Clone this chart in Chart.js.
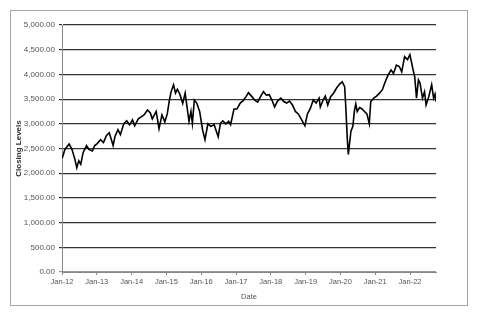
<!DOCTYPE html>
<html>
<head>
<meta charset="utf-8">
<script src="https://cdn.jsdelivr.net/npm/chart.js@4"></script>
<style>
  html, body { margin: 0; padding: 0; background: #fff; }
  #wrap { width: 482px; height: 318px; }
</style>
</head>
<body>
<div id="wrap"><canvas id="closingChart" width="482" height="318"></canvas></div>
<script>
// Closing levels
const dates = [
  "2012-01-03", "2012-02-01", "2012-03-15", "2012-04-15", "2012-05-15", "2012-06-04", "2012-06-25",
  "2012-07-15", "2012-08-10", "2012-09-15", "2012-10-10", "2012-11-15", "2012-12-10",
  "2013-01-05", "2013-02-10", "2013-03-10", "2013-04-10", "2013-05-10", "2013-06-20", "2013-07-10",
  "2013-08-10", "2013-09-05", "2013-10-10", "2013-11-10", "2013-12-10",
  "2014-01-10", "2014-02-03", "2014-03-10", "2014-04-10", "2014-05-10", "2014-06-15", "2014-07-15",
  "2014-08-05", "2014-09-15", "2014-10-15", "2014-11-15", "2014-12-15",
  "2015-01-10", "2015-01-30", "2015-02-20", "2015-03-15", "2015-04-05", "2015-04-25", "2015-05-20",
  "2015-06-20", "2015-07-15", "2015-08-25", "2015-09-15", "2015-09-30", "2015-10-20", "2015-11-15", "2015-12-15",
  "2016-01-15", "2016-02-10", "2016-03-10", "2016-04-10", "2016-05-15", "2016-06-27", "2016-07-20",
  "2016-08-15", "2016-09-15", "2016-10-15", "2016-11-05", "2016-12-10",
  "2017-01-10", "2017-02-15", "2017-03-15", "2017-04-15", "2017-05-10", "2017-06-15", "2017-07-15",
  "2017-08-15", "2017-09-15", "2017-10-15", "2017-11-15", "2017-12-15",
  "2018-01-15", "2018-02-10", "2018-03-10", "2018-04-15", "2018-05-15", "2018-06-15", "2018-07-15",
  "2018-08-15", "2018-09-15", "2018-10-15", "2018-11-15", "2018-12-24",
  "2019-01-20", "2019-02-20", "2019-03-20", "2019-04-20", "2019-05-20", "2019-06-03", "2019-07-01",
  "2019-07-25", "2019-08-20", "2019-09-20", "2019-10-20", "2019-11-20", "2019-12-20",
  "2020-01-20", "2020-02-15", "2020-02-28", "2020-03-12", "2020-03-23", "2020-04-05", "2020-04-20",
  "2020-05-10", "2020-05-25", "2020-06-10", "2020-06-25", "2020-07-20", "2020-08-15", "2020-09-10",
  "2020-10-05", "2020-10-30", "2020-11-15", "2020-12-15",
  "2021-01-15", "2021-02-15", "2021-03-15", "2021-04-15", "2021-05-15", "2021-06-15", "2021-07-10",
  "2021-08-10", "2021-09-10", "2021-10-05", "2021-11-05", "2021-12-05", "2021-12-30",
  "2022-01-15", "2022-01-30", "2022-02-20", "2022-03-08", "2022-03-28", "2022-04-15", "2022-05-10",
  "2022-06-01", "2022-06-17", "2022-07-15", "2022-08-15", "2022-09-05", "2022-09-20", "2022-09-30"
];

const closingLevels = [
  2300, 2480, 2590, 2480, 2280, 2110, 2250,
  2180, 2420, 2560, 2480, 2450, 2560,
  2600, 2680, 2620, 2760, 2820, 2560, 2750,
  2880, 2780, 3000, 3060, 2980,
  3080, 2960, 3100, 3140, 3180, 3280, 3220,
  3100, 3250, 2900, 3180, 3040,
  3200, 3450, 3650, 3790, 3620, 3700, 3600,
  3410, 3620, 3050, 3250, 3010, 3480, 3420, 3250,
  2880, 2680, 3000, 2950, 2980, 2740, 3010,
  3060, 3000, 3050, 2980, 3300,
  3300, 3420, 3470, 3550, 3630, 3550, 3480,
  3440, 3550, 3650, 3580, 3590,
  3470, 3340, 3460, 3520, 3450, 3420, 3460,
  3380, 3250, 3200, 3100, 2960,
  3200, 3310, 3480, 3420, 3520, 3340, 3480,
  3560, 3380, 3550, 3620, 3720, 3800,
  3850, 3750, 3300, 2700, 2380, 2600, 2850,
  2950, 3250, 3400, 3250, 3330, 3300, 3250,
  3200, 3000, 3450, 3520,
  3560, 3620, 3690, 3850, 3990, 4090, 4020,
  4190, 4160, 4050, 4360, 4300, 4400,
  4260, 4120, 3950, 3520, 3890, 3820, 3520,
  3650, 3380, 3550, 3790, 3520, 3600, 3450
];

const xTickLabels = ["Jan-12", "Jan-13", "Jan-14", "Jan-15", "Jan-16", "Jan-17", "Jan-18", "Jan-19", "Jan-20", "Jan-21", "Jan-22"];
const yTickValues = [0, 500, 1000, 1500, 2000, 2500, 3000, 3500, 4000, 4500, 5000];

// months since Jan 2012
function monthOffset(s) {
  const [y, m, d] = s.split("-").map(Number);
  return (y - 2012) * 12 + (m - 1) + (d - 1) / 30.5;
}

const points = dates.map((d, i) => ({ x: monthOffset(d), y: closingLevels[i] }));
const xTickValues = xTickLabels.map((l, i) => i * 12);

// grey frame around the whole chart
const framePlugin = {
  id: "frame",
  afterDraw(chart) {
    const ctx = chart.ctx;
    ctx.save();
    ctx.strokeStyle = "#a6a6a6";
    ctx.lineWidth = 1;
    ctx.strokeRect(10.5, 10.5, 457, 295);
    ctx.restore();
  },
};

new Chart(document.getElementById("closingChart"), {
  type: "line",
  data: {
    datasets: [
      {
        label: "Closing Levels",
        data: points,
        borderColor: "#000",
        borderWidth: 1.6,
        pointRadius: 0,
        tension: 0,
      },
    ],
  },
  options: {
    responsive: false,
    animation: false,
    layout: { padding: { left: 10, top: 25, right: 46, bottom: 13 } },
    plugins: { legend: { display: false }, tooltip: { enabled: false } },
    scales: {
      x: {
        type: "linear",
        min: 0,
        max: points[points.length - 1].x,
        afterBuildTicks: (scale) => {
          scale.ticks = xTickValues.map((v) => ({ value: v }));
        },
        afterFit: (scale) => {
          scale.height = 33;
        },
        grid: {
          drawOnChartArea: false,
          drawTicks: true,
          tickLength: 3,
          color: "#888",
        },
        border: { color: "#888", width: 1 },
        ticks: {
          padding: 2,
          maxRotation: 0,
          autoSkip: false,
          color: "#555",
          font: { family: "Liberation Sans", size: 7.5 },
          callback: (v) => xTickLabels[xTickValues.indexOf(v)],
        },
        title: {
          display: true,
          text: "Date",
          color: "#555",
          padding: { top: 3 },
          font: { family: "Liberation Sans", size: 7.5 },
        },
      },
      y: {
        min: 0,
        max: 5000,
        afterBuildTicks: (scale) => {
          scale.ticks = yTickValues.map((v) => ({ value: v }));
        },
        afterFit: (scale) => {
          scale.width = 52;
        },
        grid: {
          color: (c) => (c.tick && c.tick.value === 0 ? "#999" : "#333"),
          lineWidth: 1.2,
          tickLength: 3,
        },
        border: { color: "#888", width: 1 },
        ticks: {
          padding: 4,
          color: "#555",
          font: { family: "Liberation Sans", size: 8 },
          callback: (v) =>
            v.toLocaleString("en-US", { minimumFractionDigits: 2, maximumFractionDigits: 2 }),
        },
        title: {
          display: true,
          text: "Closing Levels",
          color: "#333",
          padding: { top: 4, bottom: 0 },
          font: { family: "Liberation Sans", size: 8, weight: "bold" },
        },
      },
    },
  },
  plugins: [framePlugin],
});
</script>
</body>
</html>
